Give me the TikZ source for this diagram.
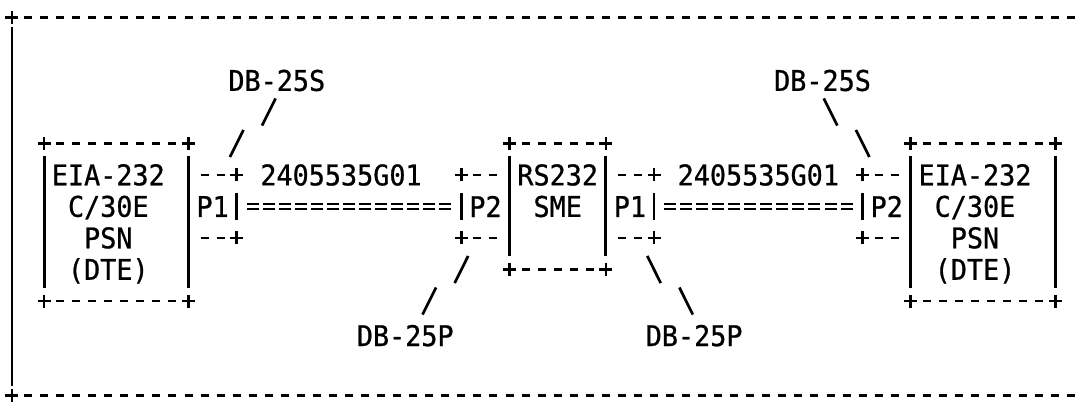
\documentclass[tikz,border=0pt]{standalone}
\usepackage{fontspec}
\setmainfont{DejaVu Sans Mono}[FakeStretch=0.94, FakeBold=0.8]
\usepackage{tikz}
\usetikzlibrary{calc}

\begin{document}
\begin{tikzpicture}[
        x=16.05pt, y=-31.5pt,
        font=\fontsize{28.5}{31.5}\selectfont,
        txt/.style={inner sep=0pt, align=center},
        devframe/.style={inner sep=0pt, outer sep=0pt},
        dashrow/.style={line width=2.7pt, dash pattern=on 8pt off 8.05pt},
        bar/.style={line width=2.9pt},
        cable/.style={double, line width=2.1pt, double distance=3pt, dash pattern=on 12pt off 4.05pt},
        lead/.style={line width=2.7pt},
        plus/.pic={\draw[line width=2.7pt] (-6.5pt,0pt) -- (6.5pt,0pt) (0pt,-6.5pt) -- (0pt,6.5pt);}
    ]
    \useasboundingbox (-12pt,17.5pt) rectangle (1070pt,-388.5pt);

    % outer frame, open on the right
    \pic at (0,0) {plus};
    \pic at (0,12) {plus};
    \draw[dashrow] (0.75,0) -- (66.7,0);
    \draw[dashrow] (0.75,12) -- (66.7,12);
    \draw[bar] (0,0.3) -- (0,11.7);

    % devices
    \node[devframe, minimum width=144.45pt, minimum height=157.5pt] (dteL) at (6.5,6.5) {};
    \node[devframe, minimum width=96.3pt, minimum height=126pt] (sme) at (34,6) {};
    \node[devframe, minimum width=144.45pt, minimum height=157.5pt] (dteR) at (60.5,6.5) {};
    \node[txt] (dteLtext) at (6,6.55) {EIA-232\\C/30E\\PSN\\(DTE)};
    \node[txt] (smetext) at (34,5.5) {RS232\\SME};
    \node[txt] (dteRtext) at (60,6.55) {EIA-232\\C/30E\\PSN\\(DTE)};
    \foreach \b in {dteL, sme, dteR} {
        \draw[dashrow] ([xshift=12.04pt]\b.north west) -- ([xshift=-12.04pt]\b.north east);
        \draw[dashrow] ([xshift=12.04pt]\b.south west) -- ([xshift=-12.04pt]\b.south east);
        \draw[bar] ([yshift=-13pt]\b.north west) -- ([yshift=13pt]\b.south west);
        \draw[bar] ([yshift=-13pt]\b.north east) -- ([yshift=13pt]\b.south east);
        \foreach \c in {north west, north east, south west, south east}
            \pic at (\b.\c) {plus};
    }

    % plugs
    \node[txt] (p1L) at (12.5,6) {P1};
    \node[txt] (p2L) at (29.5,6) {P2};
    \node[txt] (p1R) at (38.5,6) {P1};
    \node[txt] (p2R) at (54.5,6) {P2};
    \foreach \p/\s in {p1L/1, p2L/-1, p1R/1, p2R/-1} {
        \draw[dashrow] ($(\p)+(-0.75,-1)$) -- ($(\p)+(0.75,-1)$);
        \draw[dashrow] ($(\p)+(-0.75,1)$) -- ($(\p)+(0.75,1)$);
        \draw[bar] ($(\p)+(1.5*\s,-0.42)$) -- ($(\p)+(1.5*\s,0.42)$);
        \pic at ($(\p)+(1.5*\s,-1)$) {plus};
        \pic at ($(\p)+(1.5*\s,1)$) {plus};
    }
    \coordinate (p1Ltop) at ($(p1L)+(1.5,-1)$);
    \coordinate (p2Lbot) at ($(p2L)+(-1.5,1)$);
    \coordinate (p1Rbot) at ($(p1R)+(1.5,1)$);
    \coordinate (p2Rtop) at ($(p2R)+(-1.5,-1)$);

    % cables
    \draw[cable] ($(p1L)+(2.125,0)$) -- ($(p2L)+(-2.125,0)$);
    \draw[cable] ($(p1R)+(2.125,0)$) -- ($(p2R)+(-2.125,0)$);
    \node[txt] (cabL) at (20.5,5) {2405535G01};
    \node[txt] (cabR) at (46.5,5) {2405535G01};

    % connector labels
    \node[txt] (dbsL) at (16.5,2) {DB-25S};
    \node[txt] (dbsR) at (50.5,2) {DB-25S};
    \node[txt] (dbpL) at (24.5,10.1) {DB-25P};
    \node[txt] (dbpR) at (42.5,10.1) {DB-25P};
    \draw[lead] (p1Ltop) ++(-0.42,-0.57) -- ++(0.84,-0.86) ++(1.16,-0.14) -- ++(0.84,-0.86);
    \draw[lead] (p2Rtop) ++(0.42,-0.57) -- ++(-0.84,-0.86) ++(-1.16,-0.14) -- ++(-0.84,-0.86);
    \draw[lead] (p2Lbot) ++(0.42,0.57) -- ++(-0.84,0.86) ++(-1.16,0.14) -- ++(-0.84,0.86);
    \draw[lead] (p1Rbot) ++(-0.42,0.57) -- ++(0.84,0.86) ++(1.16,0.14) -- ++(0.84,0.86);
\end{tikzpicture}
\end{document}
